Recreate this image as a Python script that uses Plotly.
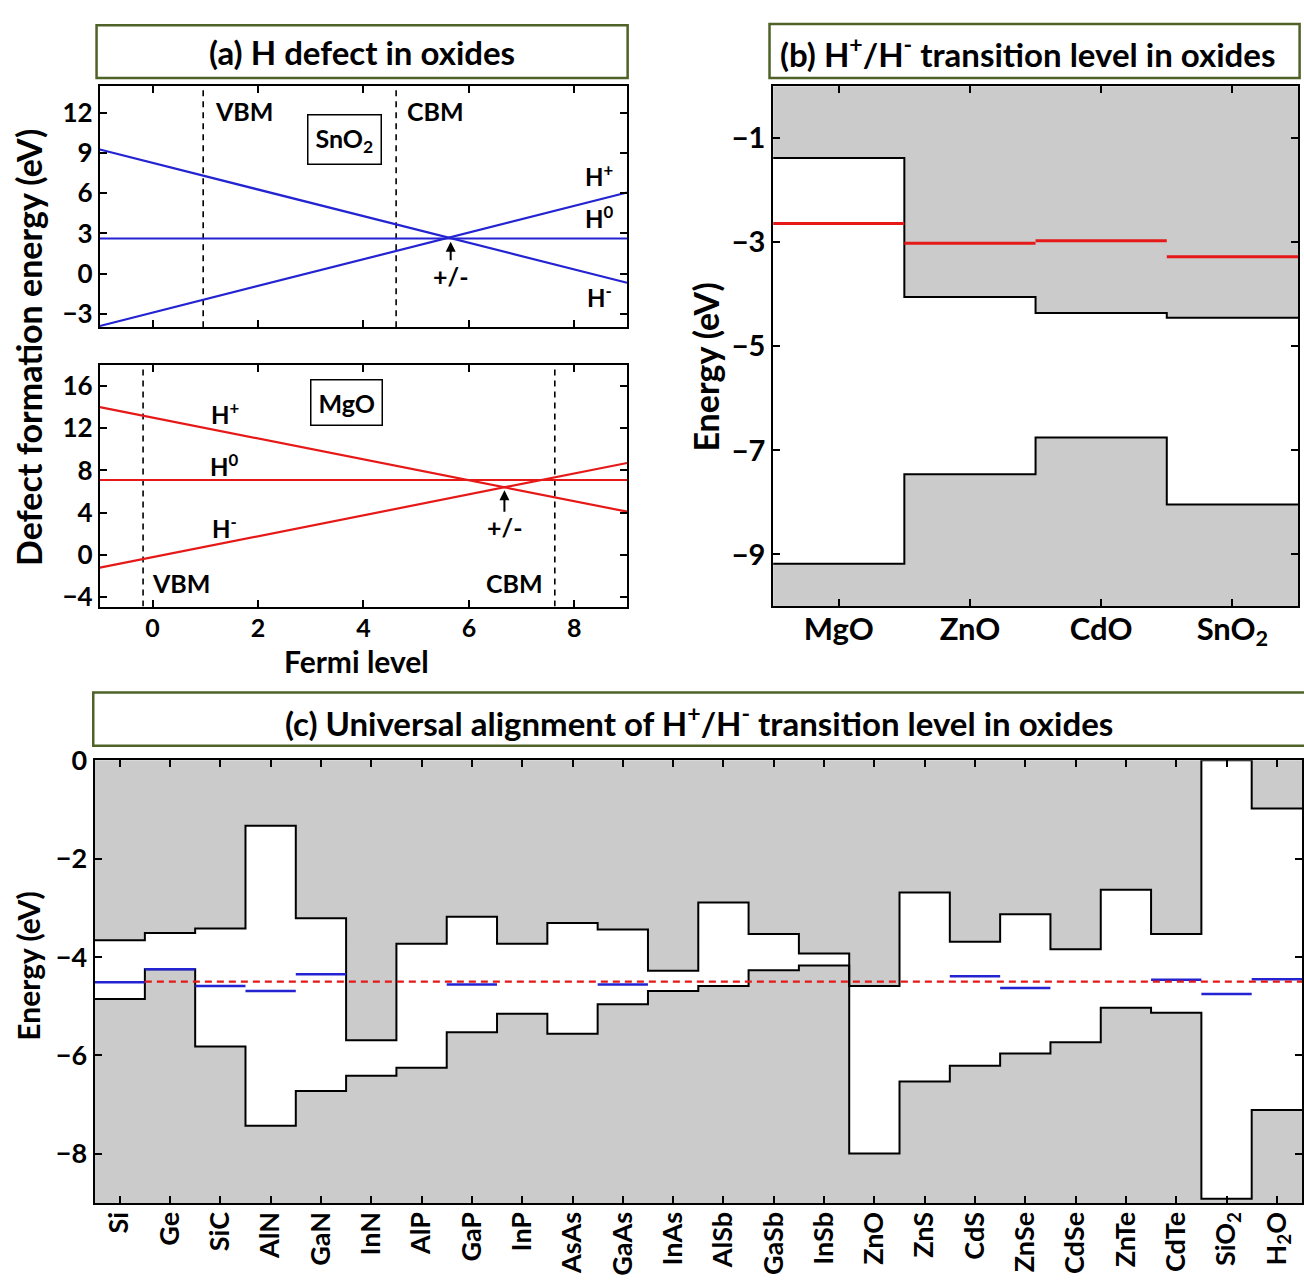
import numpy as np
import plotly.graph_objects as go

W, H = 1304, 1287
FONT = "Lato"

# ---------------- Panel (a) data ----------------
fermi_ends = [-1, 9]
sno2_h_plus = [-3.9, 6.05]
sno2_h_zero = [2.62, 2.62]
sno2_h_minus = [9.25, -0.68]
sno2_vbm = 0.96
sno2_cbm = 4.62

mgo_h_plus = [14.0, 4.1]
mgo_h_zero = [7.1, 7.1]
mgo_h_minus = [-1.21, 8.71]
mgo_vbm = -0.18
mgo_cbm = 7.63

# ---------------- Panel (b) data ----------------
oxides = ["MgO", "ZnO", "CdO", "SnO<sub>2</sub>"]
oxide_cbm = [-1.38, -4.05, -4.36, -4.45]
oxide_vbm = [-9.18, -7.46, -6.75, -8.04]
oxide_level = [-2.64, -3.02, -2.97, -3.28]

# ---------------- Panel (c) data ----------------
materials = ["Si", "Ge", "SiC", "AlN", "GaN", "InN", "AlP", "GaP", "InP", "AsAs",
             "GaAs", "InAs", "AlSb", "GaSb", "InSb", "ZnO", "ZnS", "CdS", "ZnSe",
             "CdSe", "ZnTe", "CdTe", "SiO<sub>2</sub>", "H<sub>2</sub>O"]
mat_cbm = [-3.66, -3.51, -3.42, -1.33, -3.21, -5.69, -3.73, -3.18, -3.73, -3.31,
           -3.44, -4.28, -2.89, -3.53, -3.93, -4.59, -2.69, -3.69, -3.13, -3.84,
           -2.63, -3.53, 0.0, -0.98]
mat_vbm = [-4.85, -4.25, -5.82, -7.43, -6.72, -6.41, -6.25, -5.53, -5.15, -5.56,
           -4.96, -4.69, -4.59, -4.27, -4.17, -7.99, -6.53, -6.21, -5.96, -5.73,
           -5.03, -5.13, -8.91, -7.11]
mat_level = [-4.51, -4.25, -4.59, -4.69, -4.35, None, None, -4.56, None, None,
             -4.56, None, None, None, None, None, None, -4.39, -4.63, None,
             None, -4.46, -4.75, -4.45]
universal_level = -4.5

BLUE = "rgb(35,35,210)"
RED = "rgb(230,25,25)"
GREY = "#cbcbcb"
BOXGREEN = "#4f6228"


def crossing(xs, a, b):
    sa = (a[1] - a[0]) / (xs[1] - xs[0])
    sb = (b[1] - b[0]) / (xs[1] - xs[0])
    x = xs[0] + (b[0] - a[0]) / (sa - sb)
    return x, a[0] + sa * (x - xs[0])


def steps(vals):
    xs, ys = [], []
    for i, v in enumerate(vals):
        xs += [i - 0.5, i + 0.5]
        ys += [v, v]
    return xs, ys


fig = go.Figure()

# ---- panel (a) lines ----
for (hp, h0, hm, vbm, cbm, col, xa, ya, yr) in [
    (sno2_h_plus, sno2_h_zero, sno2_h_minus, sno2_vbm, sno2_cbm, BLUE, "x", "y", [-4, 14]),
    (mgo_h_plus, mgo_h_zero, mgo_h_minus, mgo_vbm, mgo_cbm, RED, "x2", "y2", [-4.9, 18]),
]:
    for v in (vbm, cbm):
        fig.add_trace(go.Scatter(x=[v, v], y=yr, mode="lines", xaxis=xa, yaxis=ya,
                                 line=dict(color="black", width=1.6, dash="6px,5px"),
                                 showlegend=False, hoverinfo="skip"))
    for arr in (hp, h0, hm):
        fig.add_trace(go.Scatter(x=fermi_ends, y=arr, mode="lines", xaxis=xa, yaxis=ya,
                                 line=dict(color=col, width=2.2), showlegend=False))


# ---- band panels ----
def band_panel(cbm, vbm, top, bottom, xa, ya):
    xs, ys = steps(cbm)
    fig.add_trace(go.Scatter(x=xs + [xs[-1], xs[0]], y=ys + [top, top], fill="toself",
                             fillcolor=GREY, mode="lines", line=dict(width=0),
                             xaxis=xa, yaxis=ya, showlegend=False, hoverinfo="skip"))
    xs2, ys2 = steps(vbm)
    fig.add_trace(go.Scatter(x=xs2 + [xs2[-1], xs2[0]], y=ys2 + [bottom, bottom], fill="toself",
                             fillcolor=GREY, mode="lines", line=dict(width=0),
                             xaxis=xa, yaxis=ya, showlegend=False, hoverinfo="skip"))
    fig.add_trace(go.Scatter(x=xs, y=ys, mode="lines", line=dict(color="black", width=2),
                             xaxis=xa, yaxis=ya, showlegend=False))
    fig.add_trace(go.Scatter(x=xs2, y=ys2, mode="lines", line=dict(color="black", width=2),
                             xaxis=xa, yaxis=ya, showlegend=False))


band_panel(oxide_cbm, oxide_vbm, 0.5, -10.5, "x3", "y3")
segx, segy = [], []
for i, v in enumerate(oxide_level):
    segx += [i - 0.5, i + 0.5, None]
    segy += [v, v, None]
fig.add_trace(go.Scatter(x=segx, y=segy, mode="lines", line=dict(color=RED, width=3),
                         xaxis="x3", yaxis="y3", showlegend=False))

band_panel(mat_cbm, mat_vbm, 0.5, -9.5, "x4", "y4")
segx, segy = [], []
for i, v in enumerate(mat_level):
    if v is None:
        continue
    segx += [i - 0.5, i + 0.5, None]
    segy += [v, v, None]
fig.add_trace(go.Scatter(x=segx, y=segy, mode="lines", line=dict(color=BLUE, width=2.5),
                         xaxis="x4", yaxis="y4", showlegend=False))
fig.add_trace(go.Scatter(x=[0.5, len(materials) - 0.5], y=[universal_level] * 2, mode="lines",
                         line=dict(color=RED, width=2.2, dash="7px,5px"),
                         xaxis="x4", yaxis="y4", showlegend=False))

# ---------------- axes ----------------
common = dict(showline=True, linecolor="black", linewidth=2, mirror="allticks",
              ticks="inside", ticklen=7, tickwidth=2, tickcolor="black",
              showgrid=False, zeroline=False)


def px_x(a, b):
    return [a / W, min(b / W, 1.0)]


def px_y(top, bottom):
    return [1 - bottom / H, 1 - top / H]


tf = lambda s: dict(family=FONT, size=s, color="black", weight="bold")

fig.update_layout(
    xaxis=dict(common, domain=px_x(100, 628), anchor="y", range=[-1, 9],
               tickvals=[0, 2, 4, 6, 8], showticklabels=False),
    yaxis=dict(common, domain=px_y(69, 315), anchor="x", range=[-4, 14],
               tickvals=[-3, 0, 3, 6, 9, 12], tickfont=tf(26)),
    xaxis2=dict(common, domain=px_x(100, 628), anchor="y2", range=[-1, 9],
                tickvals=[0, 2, 4, 6, 8], tickfont=tf(25), ticklabelstandoff=-2),
    yaxis2=dict(common, domain=px_y(353.3, 599.3), anchor="x2", range=[-4.9, 18],
                tickvals=[-4, 0, 4, 8, 12, 16], tickfont=tf(26)),
    xaxis3=dict(common, domain=px_x(774.3, 1300), anchor="y3", range=[-0.5, 3.5],
                tickvals=list(range(len(oxides))), ticktext=oxides, tickfont=tf(31),
                ticklabelstandoff=-6),
    yaxis3=dict(common, domain=px_y(69.4, 599.2), anchor="x3", range=[-10, 0],
                tickvals=[-9, -7, -5, -3, -1], tickfont=tf(29)),
    xaxis4=dict(common, domain=px_x(94.7, 1304), anchor="y4", range=[-0.5, 23.5],
                tickvals=list(range(len(materials))), ticktext=materials,
                tickangle=-90, tickfont=tf(27), ticklabelstandoff=-4),
    yaxis4=dict(common, domain=px_y(755.7, 1206.7), anchor="x4", range=[-9, 0],
                tickvals=[0, -2, -4, -6, -8], tickfont=tf(27)),
)

# ---------------- title boxes ----------------
shapes = []
for (x0, y0, x1, y1) in [(96.7, 7.3, 628.6, 61), (770.7, 6, 1301.6, 61), (93.4, 686.7, 1312, 741)]:
    shapes.append(dict(type="rect", xref="paper", yref="paper",
                       x0=x0 / W, x1=x1 / W, y0=1 - y1 / H, y1=1 - y0 / H,
                       line=dict(color=BOXGREEN, width=2.5), fillcolor="white", layer="below"))
fig.update_layout(shapes=shapes)

ann = []


def ptext(text, x, y, size, angle=0):
    ann.append(dict(text=text, xref="paper", yref="paper", x=x / W, y=1 - y / H,
                    showarrow=False, xanchor="center", yanchor="middle", textangle=angle,
                    font=dict(family=FONT, size=size, color="black", weight="bold")))


ptext("(a) H defect in oxides", 363, 35, 33)
ptext("(b) H<sup>+</sup>/H<sup>-</sup> transition level in oxides", 1029, 35, 33)
ptext("(c) Universal alignment of H<sup>+</sup>/H<sup>-</sup> transition level in oxides", 700, 716, 33)
ptext("Defect formation energy (eV)", 28, 335, 34, -90)
ptext("Fermi level", 357, 655, 30)
ptext("Energy (eV)", 707, 355, 34, -90)
ptext("Energy (eV)", 28, 965, 30, -90)


def dtext(text, x, y, xa, ya, size=24, box=False):
    d = dict(text=text, xref=xa, yref=ya, x=x, y=y, showarrow=False,
             xanchor="center", yanchor="middle",
             font=dict(family=FONT, size=size, color="black", weight="bold"))
    if box:
        d.update(bordercolor="black", borderwidth=1.5, borderpad=7, bgcolor="white")
    ann.append(d)


# top (SnO2)
dtext("VBM", 1.73, 12.12, "x", "y", 25)
dtext("CBM", 5.36, 12.12, "x", "y", 25)
dtext("SnO<sub>2</sub>", 3.65, 10.0, "x", "y", 25, box=True)
dtext("H<sup>+</sup>", 8.47, 7.37, "x", "y")
dtext("H<sup>0</sup>", 8.47, 4.22, "x", "y")
dtext("H<sup>-</sup>", 8.47, -1.63, "x", "y")
cx, cy = crossing(fermi_ends, sno2_h_plus, sno2_h_minus)
ann.append(dict(x=cx + 0.04, y=cy, xref="x", yref="y", ax=0, ay=24, text="", showarrow=True,
                arrowhead=2, arrowsize=1, arrowwidth=2, arrowcolor="black", standoff=4))
dtext("+/-", cx + 0.04, -0.2, "x", "y", 25)

# bottom (MgO)
dtext("VBM", 0.54, -2.67, "x2", "y2", 25)
dtext("CBM", 6.87, -2.67, "x2", "y2", 25)
dtext("MgO", 3.68, 14.45, "x2", "y2", 25, box=True)
dtext("H<sup>+</sup>", 1.37, 13.45, "x2", "y2")
dtext("H<sup>0</sup>", 1.37, 8.49, "x2", "y2")
dtext("H<sup>-</sup>", 1.37, 2.6, "x2", "y2")
cx, cy = crossing(fermi_ends, mgo_h_plus, mgo_h_minus)
ann.append(dict(x=cx, y=cy, xref="x2", yref="y2", ax=0, ay=26, text="", showarrow=True,
                arrowhead=2, arrowsize=1, arrowwidth=2, arrowcolor="black", standoff=3))
dtext("+/-", cx, 2.6, "x2", "y2", 25)

fig.update_layout(annotations=ann, width=W, height=H,
                  margin=dict(l=0, r=0, t=0, b=0),
                  paper_bgcolor="white", plot_bgcolor="rgba(0,0,0,0)",
                  font=dict(family=FONT, color="black"), showlegend=False)

fig.write_html("out.html")
